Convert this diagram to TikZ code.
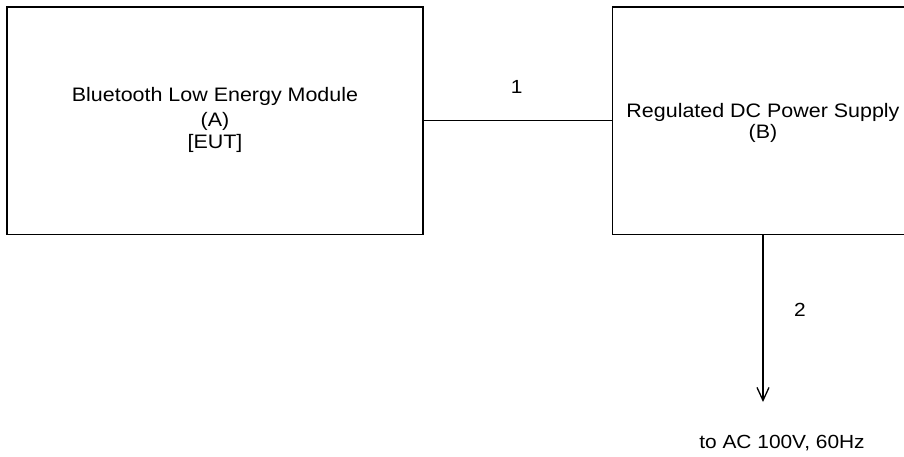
\documentclass[tikz,border=0pt]{standalone}
\usepackage{fontspec}
\setmainfont{Liberation Sans}[FakeStretch=1.1]
\usetikzlibrary{arrows.meta}
\begin{document}
\begin{tikzpicture}[x=1pt,y=-1pt,
  blk/.style={draw,line width=1.4pt,rectangle,inner sep=0pt,minimum height=227pt},
  txt/.style={inner sep=0pt,anchor=base,font=\fontsize{19.5}{23}\selectfont},
  lbl/.style={inner sep=0pt,anchor=base,font=\fontsize{19}{22}\selectfont},
  conn/.style={line width=1.3pt}]
\useasboundingbox (0,0) rectangle (904,457);
\clip (0,0) rectangle (904,457);
\node[blk,minimum width=416pt] (A) at (215,120.7) {};
\node[blk,minimum width=302pt] (B) at (763.3,120.7) {};
\node[txt] (A1) at (215,101.7) {Bluetooth Low Energy Module};
\node[txt] (A2) at (215,126.5) {(A)};
\node[txt] (A3) at (215,149) {[EUT]};
\node[txt] (B1) at (763,117.7) {Regulated DC Power Supply};
\node[txt] (B2) at (763,138.5) {(B)};
\draw[conn] (A.east) -- (B.west);
\node[lbl] (L1) at (516.7,94) {1};
\coordinate (P) at (763,402);
\draw[conn,-{Straight Barb[length=13pt,width=12pt,line width=1.3pt]}] (B.south -| P) -- (P);
\node[lbl] (L2) at (800,316) {2};
\node[lbl] (T) at (782,448) {to AC 100V, 60Hz};
\end{tikzpicture}
\end{document}
